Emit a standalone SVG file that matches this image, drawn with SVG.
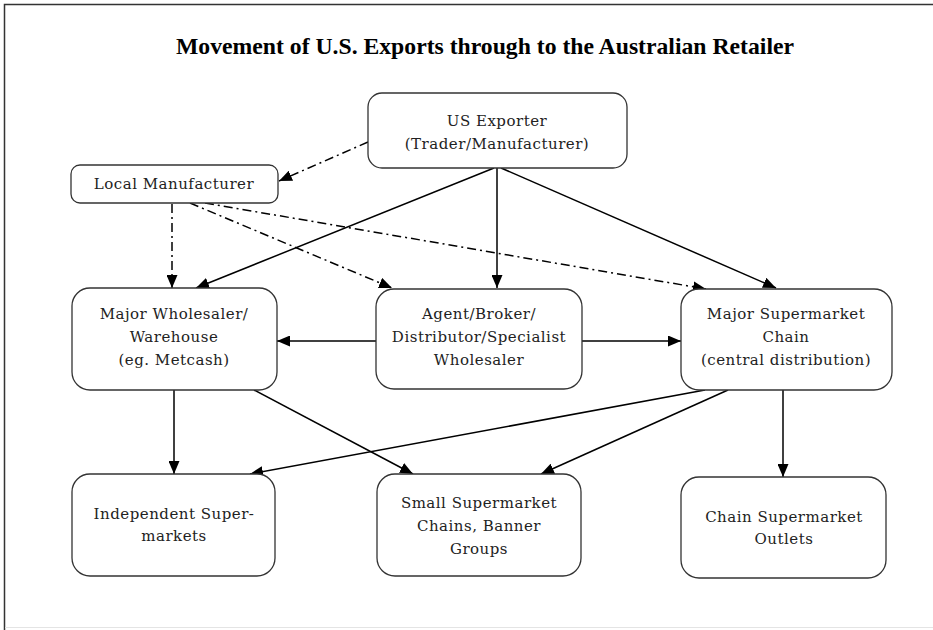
<svg xmlns="http://www.w3.org/2000/svg" width="933" height="630" viewBox="0 0 933 630">
<defs>
<marker id="ah" viewBox="0 0 13 11" refX="13" refY="5.5" markerWidth="13" markerHeight="11" markerUnits="userSpaceOnUse" orient="auto">
<path d="M0,0 L13,5.5 L0,11 Z" fill="#000"/>
</marker>
<style>
.box{fill:#fff;stroke:#333;stroke-width:1.3}
.t{font-family:"DejaVu Serif","Liberation Serif",serif;font-size:15px;letter-spacing:0.5px;fill:#222;text-anchor:middle}
.title{font-family:"Liberation Serif",serif;font-weight:bold;font-size:23px;fill:#000;text-anchor:middle}
.s{fill:none;stroke:#000;stroke-width:1.5;marker-end:url(#ah)}
.d{fill:none;stroke:#000;stroke-width:1.5;stroke-dasharray:9 4 2 4;marker-end:url(#ah)}
</style>
</defs>
<rect width="933" height="630" fill="#fff"/>
<path d="M4.5,630 V4.5 H933" fill="none" stroke="#333" stroke-width="1.5"/>
<path d="M5,627.5 H933" fill="none" stroke="#e4e4e4" stroke-width="1"/>
<text class="title" x="485" y="54" textLength="618" lengthAdjust="spacingAndGlyphs">Movement of U.S. Exports through to the Australian Retailer</text>

<g id="connectors">
<path class="s" d="M494,168 L196,288"/>
<path class="s" d="M497,168 V288"/>
<path class="s" d="M501,168 L776,288"/>
<path class="s" d="M376,341 H277"/>
<path class="s" d="M582,341 H681"/>
<path class="s" d="M174,390 V474"/>
<path class="s" d="M254,390 L413,474"/>
<path class="s" d="M705,390 L250,474"/>
<path class="s" d="M728,390 L541,474"/>
<path class="s" d="M783,390 V477"/>
<path class="d" d="M368,142 L279,181"/>
<path class="d" d="M172,204 V288"/>
<path class="d" d="M190,203 L392,288"/>
<path class="d" d="M205,203 L706,289"/>
</g>

<g id="us-exporter">
<rect class="box" x="368" y="93" width="259" height="75" rx="14"/>
<text class="t" x="497" y="126">US Exporter</text>
<text class="t" x="497" y="149">(Trader/Manufacturer)</text>
</g>
<g id="local-manufacturer">
<rect class="box" x="71" y="165" width="207" height="38" rx="9"/>
<text class="t" x="174" y="189">Local Manufacturer</text>
</g>
<g id="major-wholesaler">
<rect class="box" x="72" y="288" width="205" height="102" rx="18"/>
<text class="t" x="174" y="319">Major Wholesaler/</text>
<text class="t" x="174" y="342">Warehouse</text>
<text class="t" x="174" y="365">(eg. Metcash)</text>
</g>
<g id="agent-broker">
<rect class="box" x="376" y="289" width="206" height="100" rx="18"/>
<text class="t" x="479" y="319">Agent/Broker/</text>
<text class="t" x="479" y="342">Distributor/Specialist</text>
<text class="t" x="479" y="365">Wholesaler</text>
</g>
<g id="major-supermarket-chain">
<rect class="box" x="681" y="289" width="211" height="101" rx="18"/>
<text class="t" x="786" y="319">Major Supermarket</text>
<text class="t" x="786" y="342">Chain</text>
<text class="t" x="786" y="365">(central distribution)</text>
</g>
<g id="independent-supermarkets">
<rect class="box" x="72" y="474" width="203" height="102" rx="18"/>
<text class="t" x="174" y="519">Independent Super-</text>
<text class="t" x="174" y="541">markets</text>
</g>
<g id="small-supermarket-chains">
<rect class="box" x="377" y="474" width="204" height="102" rx="18"/>
<text class="t" x="479" y="508">Small Supermarket</text>
<text class="t" x="479" y="531">Chains, Banner</text>
<text class="t" x="479" y="554">Groups</text>
</g>
<g id="chain-supermarket-outlets">
<rect class="box" x="681" y="477" width="205" height="101" rx="18"/>
<text class="t" x="784" y="522">Chain Supermarket</text>
<text class="t" x="784" y="544">Outlets</text>
</g>
</svg>
